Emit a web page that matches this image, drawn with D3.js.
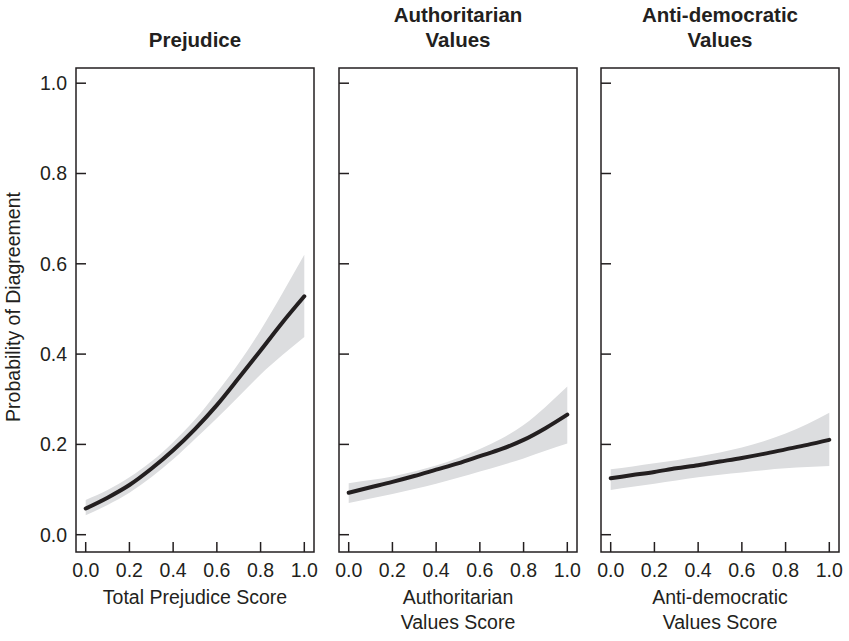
<!DOCTYPE html>
<html>
<head>
<meta charset="utf-8">
<script src="https://cdn.jsdelivr.net/npm/d3@7"></script>
<style>
  body { margin: 0; background: #fff; }
  text { font-family: "Liberation Sans", Arial, sans-serif; fill: #231f20; }
</style>
</head>
<body>
<div id="chart"></div>
<script>

var W = 849, H = 641

// x grid shared by all panels
var xs = [0, 0.1, 0.2, 0.3, 0.4, 0.5, 0.6, 0.7, 0.8, 0.9, 1.0]
var ticks = [0, 0.2, 0.4, 0.6, 0.8, 1.0]

var titles = [["Prejudice"], ["Authoritarian", "Values"], ["Anti-democratic", "Values"]]
var xLabels = [["Total Prejudice Score"], ["Authoritarian", "Values Score"], ["Anti-democratic", "Values Score"]]

// predicted probability and confidence band
var prejMean  = [0.058, 0.082, 0.110, 0.146, 0.187, 0.234, 0.287, 0.347, 0.408, 0.470, 0.528]
var prejUpper = [0.077, 0.099, 0.127, 0.162, 0.205, 0.255, 0.315, 0.380, 0.453, 0.535, 0.620]
var prejLower = [0.043, 0.066, 0.093, 0.127, 0.167, 0.212, 0.258, 0.306, 0.355, 0.398, 0.438]

var authMean  = [0.093, 0.105, 0.117, 0.130, 0.144, 0.158, 0.174, 0.190, 0.210, 0.236, 0.266]
var authUpper = [0.114, 0.121, 0.129, 0.140, 0.153, 0.170, 0.190, 0.213, 0.243, 0.283, 0.328]
var authLower = [0.070, 0.080, 0.090, 0.101, 0.113, 0.126, 0.140, 0.154, 0.169, 0.186, 0.202]

var antiMean  = [0.125, 0.132, 0.139, 0.147, 0.154, 0.162, 0.170, 0.179, 0.189, 0.199, 0.210]
var antiUpper = [0.145, 0.151, 0.158, 0.165, 0.173, 0.182, 0.193, 0.207, 0.224, 0.245, 0.270]
var antiLower = [0.099, 0.106, 0.113, 0.120, 0.127, 0.133, 0.138, 0.143, 0.147, 0.150, 0.152]

var series = [
  { mean: prejMean, upper: prejUpper, lower: prejLower },
  { mean: authMean, upper: authUpper, lower: authLower },
  { mean: antiMean, upper: antiUpper, lower: antiLower }
]

var boxLeft = [76, 339, 601]
var boxW = 238
var boxTop = 68, boxBottom = 552
var padX = 9.7
var tickLen = 10
var fs = 19.5

var y = d3.scaleLinear().domain([0, 1]).range([534.7, 83.2])

var svg = d3.select("#chart").append("svg")
  .attr("width", W)
  .attr("height", H)

series.forEach(function (s, i) {
  var x0 = boxLeft[i]
  var x = d3.scaleLinear().domain([0, 1]).range([x0 + padX, x0 + boxW - padX])
  var g = svg.append("g")

  var rows = xs.map(function (v, j) { return { x: v, m: s.mean[j], lo: s.lower[j], hi: s.upper[j] } })

  g.append("path")
    .datum(rows)
    .attr("d", d3.area().curve(d3.curveMonotoneX)
      .x(d => x(d.x)).y0(d => y(d.lo)).y1(d => y(d.hi)))
    .attr("fill", "#dcdddf")

  g.append("path")
    .datum(rows)
    .attr("d", d3.line().curve(d3.curveMonotoneX)
      .x(d => x(d.x)).y(d => y(d.m)))
    .attr("fill", "none")
    .attr("stroke", "#231f20")
    .attr("stroke-width", 4)
    .attr("stroke-linecap", "round")

  g.append("rect")
    .attr("x", x0)
    .attr("y", boxTop)
    .attr("width", boxW)
    .attr("height", boxBottom - boxTop)
    .attr("fill", "none")
    .attr("stroke", "#231f20")
    .attr("stroke-width", 1.5)

  // inward ticks
  g.selectAll(".yt").data(ticks).enter().append("line")
    .attr("x1", x0).attr("x2", x0 + tickLen)
    .attr("y1", d => y(d)).attr("y2", d => y(d))
    .attr("stroke", "#231f20").attr("stroke-width", 1.5)

  g.selectAll(".xt").data(ticks).enter().append("line")
    .attr("x1", d => x(d)).attr("x2", d => x(d))
    .attr("y1", boxBottom).attr("y2", boxBottom - tickLen)
    .attr("stroke", "#231f20").attr("stroke-width", 1.5)

  g.selectAll(".xl").data(ticks).enter().append("text")
    .attr("x", d => x(d))
    .attr("y", 577)
    .attr("text-anchor", "middle")
    .attr("font-size", fs)
    .text(d => d3.format(".1f")(d))

  if (i == 0) {
    g.selectAll(".yl").data(ticks).enter().append("text")
      .attr("x", x0 - 9)
      .attr("y", d => y(d))
      .attr("dy", "0.35em")
      .attr("text-anchor", "end")
      .attr("font-size", fs)
      .text(d => d3.format(".1f")(d))
  }

  var cx = x0 + boxW / 2

  xLabels[i].forEach(function (t, k) {
    g.append("text")
      .attr("x", cx)
      .attr("y", 604 + k * 25)
      .attr("text-anchor", "middle")
      .attr("font-size", fs)
      .text(t)
  })

  var tl = titles[i]
  tl.forEach(function (t, k) {
    g.append("text")
      .attr("x", cx)
      .attr("y", 47 - (tl.length - 1 - k) * 25)
      .attr("text-anchor", "middle")
      .attr("font-size", 20.5)
      .attr("font-weight", "bold")
      .text(t)
  })
})

svg.append("text")
  .attr("transform", "translate(20," + 307 + ") rotate(-90)")
  .attr("text-anchor", "middle")
  .attr("font-size", fs)
  .text("Probability of Diagreement")

</script>
</body>
</html>
